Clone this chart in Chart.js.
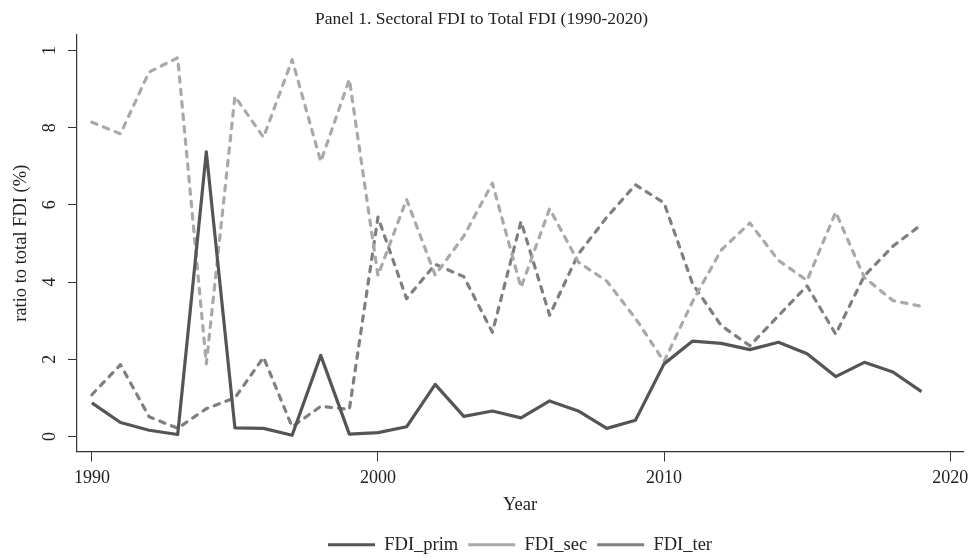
<!DOCTYPE html>
<html>
<head>
<meta charset="utf-8">
<script src="https://cdn.jsdelivr.net/npm/chart.js@4"></script>
<style>
  html, body { margin: 0; padding: 0; background: #fff; }
  #wrap { width: 976px; height: 559px; }
</style>
</head>
<body>
<div id="wrap"><canvas id="fdiChart" width="976" height="559"></canvas></div>
<script>
// datos (1990-2019)
const years = [1990, 1991, 1992, 1993, 1994, 1995, 1996, 1997, 1998, 1999,
               2000, 2001, 2002, 2003, 2004, 2005, 2006, 2007, 2008, 2009,
               2010, 2011, 2012, 2013, 2014, 2015, 2016, 2017, 2018, 2019];
const fdiPrim = [0.87, 0.36, 0.16, 0.05, 7.37, 0.22, 0.21, 0.03, 2.1, 0.06,
                 0.1, 0.25, 1.35, 0.52, 0.66, 0.48, 0.92, 0.66, 0.21, 0.42,
                 1.88, 2.47, 2.41, 2.25, 2.44, 2.14, 1.55, 1.92, 1.67, 1.16];
const fdiSec = [8.14, 7.84, 9.44, 9.81, 1.88, 8.81, 7.75, 9.76, 7.12, 9.25,
                4.17, 6.14, 4.18, 5.19, 6.56, 3.86, 5.9, 4.52, 4.02, 3.06,
                1.94, 3.5, 4.83, 5.53, 4.56, 4.04, 5.81, 4.12, 3.52, 3.37];
const fdiTer = [1.08, 1.86, 0.51, 0.21, 0.72, 1.0, 2.05, 0.25, 0.78, 0.7,
                5.68, 3.57, 4.46, 4.14, 2.7, 5.57, 3.14, 4.72, 5.68, 6.52,
                6.05, 3.95, 2.87, 2.35, 3.13, 3.9, 2.65, 4.16, 4.93, 5.49];
const xTicks = [1990, 2000, 2010, 2020];
const yTicks = [0, 2, 4, 6, 8, 10];
const yTickLabels = ['0', '2', '4', '6', '8', '1'];

const serif = "'Liberation Serif', 'DejaVu Serif', serif";

function toPoints(vals) {
    return vals.map((v, i) => ({ x: years[i], y: v }));
}

function serie(label, vals, color, dash) {
    return {
        label: label,
        data: toPoints(vals),
        borderColor: color,
        backgroundColor: color,
        borderWidth: 3.2,
        borderDash: dash,
        borderCapStyle: dash.length ? 'round' : 'butt',
        borderJoinStyle: 'round',
        pointRadius: 0,
        pointStyle: 'line',
        tension: 0
    };
}

new Chart(document.getElementById('fdiChart').getContext('2d'), {
    type: 'line',
    data: {
        datasets: [
            serie('FDI_prim', fdiPrim, '#555555', []),
            serie('FDI_sec', fdiSec, '#a9a9a9', [5.5, 7]),
            serie('FDI_ter', fdiTer, '#7f7f7f', [5.5, 7])
        ]
    },
    options: {
        responsive: false,
        animation: false,
        layout: { padding: { left: 0, right: 13, top: 0, bottom: -5 } },
        plugins: {
            title: {
                display: true,
                text: 'Panel 1. Sectoral FDI to Total FDI (1990-2020)',
                color: '#222',
                font: { family: serif, size: 17.5, weight: 'normal', lineHeight: 1.2 },
                padding: { top: 9, bottom: 5 }
            },
            legend: {
                position: 'bottom',
                fullSize: false,
                labels: {
                    usePointStyle: true,
                    pointStyleWidth: 47,
                    boxHeight: 12,
                    color: '#222',
                    font: { family: serif, size: 18.5 },
                    padding: 10
                }
            },
            tooltip: { enabled: false }
        },
        scales: {
            x: {
                type: 'linear',
                min: 1989.48,
                max: 2020.45,
                afterBuildTicks: s => { s.ticks = xTicks.map(v => ({ value: v })); },
                ticks: {
                    color: '#222',
                    font: { family: serif, size: 18 },
                    padding: 6,
                    maxRotation: 0,
                    callback: v => String(v)
                },
                grid: { drawOnChartArea: false, drawTicks: true, tickLength: 10, color: '#333' },
                border: { display: true, color: '#333', width: 1.2 },
                title: {
                    display: true,
                    text: 'Year',
                    color: '#222',
                    font: { family: serif, size: 18.5, lineHeight: 1.2 },
                    padding: { top: 0, bottom: 9 }
                },
                afterFit: s => { s.height = 74; }
            },
            y: {
                type: 'linear',
                min: -0.39,
                max: 10.4,
                afterBuildTicks: s => { s.ticks = yTicks.map(v => ({ value: v })); },
                ticks: {
                    color: '#222',
                    font: { family: serif, size: 18 },
                    minRotation: 90,
                    maxRotation: 90,
                    crossAlign: 'center',
                    padding: 13,
                    callback: v => yTickLabels[yTicks.indexOf(v)]
                },
                grid: { drawOnChartArea: false, drawTicks: true, tickLength: 9, color: '#333' },
                border: { display: true, color: '#333', width: 1.2 },
                title: {
                    display: true,
                    text: 'ratio to total FDI (%)',
                    color: '#222',
                    font: { family: serif, size: 18.5, lineHeight: 1.2 },
                    padding: { top: 10, bottom: 0 }
                },
                afterFit: s => { s.width = 77; }
            }
        }
    }
});
</script>
</body>
</html>
